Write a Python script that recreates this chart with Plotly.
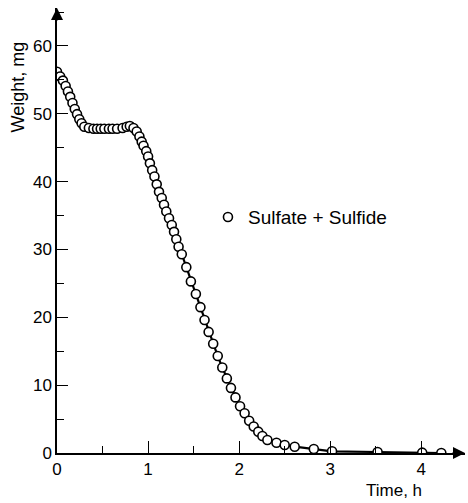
import plotly.graph_objects as go

time_h = [0.00, 0.035, 0.065, 0.095, 0.12, 0.145, 0.17, 0.195, 0.22, 0.245, 0.27, 0.30,
          0.35, 0.40, 0.44, 0.48, 0.52, 0.57, 0.61, 0.66, 0.72, 0.765, 0.80, 0.84, 0.875,
          0.905, 0.93, 0.95, 0.98, 1.00, 1.02, 1.045, 1.07, 1.095, 1.12, 1.15, 1.175, 1.20,
          1.23, 1.26, 1.285, 1.31, 1.335, 1.37, 1.42, 1.47, 1.525, 1.575, 1.62, 1.665, 1.715,
          1.765, 1.815, 1.865, 1.91, 1.96, 2.01, 2.06, 2.11, 2.16, 2.21, 2.255, 2.31, 2.41,
          2.50, 2.61, 2.82, 3.02, 3.52, 4.01, 4.22]
weight_mg = [56.2, 55.5, 54.9, 54.1, 53.3, 52.5, 51.6, 50.7, 49.95, 49.2, 48.6, 48.1,
             47.9, 47.8, 47.8, 47.8, 47.8, 47.8, 47.8, 47.8, 47.9, 48.1, 48.2, 47.9, 47.4,
             46.65, 45.9, 45.3, 44.5, 43.7, 42.7, 41.7, 40.75, 39.6, 38.5, 37.6, 36.6, 35.6,
             34.6, 33.6, 32.6, 31.5, 30.4, 29.3, 27.4, 25.3, 23.45, 21.5, 19.6, 17.85, 16.1,
             14.3, 12.6, 11.0, 9.6, 8.2, 6.9, 5.85, 4.76, 3.9, 3.15, 2.5, 1.92, 1.5,
             1.18, 0.93, 0.6, 0.25, 0.15, 0.05, 0.0]
series_name = "Sulfate + Sulfide"
x_ticks = [0, 1, 2, 3, 4]
y_ticks = [0, 10, 20, 30, 40, 50, 60]

X_MAX = 4.48
Y_MAX = 65.6
FONT = "Liberation Sans"

fig = go.Figure()
fig.add_trace(go.Scatter(x=time_h, y=weight_mg, mode="lines",
                         line=dict(color="black", width=2.2), showlegend=False,
                         hoverinfo="skip"))
fig.add_trace(go.Scatter(x=time_h, y=weight_mg, mode="markers", name=series_name,
                         marker=dict(symbol="circle", size=9, color="white",
                                     line=dict(color="black", width=1.6)),
                         showlegend=True))

fig.update_layout(
    width=468, height=503,
    margin=dict(l=57, r=3, t=8, b=50, autoexpand=False),
    paper_bgcolor="white", plot_bgcolor="white",
    font=dict(family=FONT, size=17, color="black"),
    legend=dict(x=0.37, y=0.53, xanchor="left", yanchor="middle",
                bgcolor="rgba(0,0,0,0)", itemwidth=30,
                font=dict(family=FONT, size=19, color="black")),
    xaxis=dict(range=[0, X_MAX], tickvals=x_ticks, ticktext=[str(v) for v in x_ticks],
               showgrid=False, zeroline=False, showline=True, linecolor="black",
               linewidth=1.5, ticks="inside", ticklen=12, tickwidth=1.2, tickcolor="black",
               minor=dict(ticks="inside", dtick=0.5, tick0=0, ticklen=7, tickwidth=1.2,
                          tickcolor="black", showgrid=False),
               tickfont=dict(family=FONT, size=17), automargin=False),
    yaxis=dict(range=[0, Y_MAX], tickvals=y_ticks, ticktext=[str(v) for v in y_ticks],
               showgrid=False, zeroline=False, showline=True, linecolor="black",
               linewidth=1.5, ticks="inside", ticklen=11, tickwidth=1.2, tickcolor="black",
               minor=dict(ticks="inside", dtick=5, tick0=0, ticklen=7, tickwidth=1.2,
                          tickcolor="black", showgrid=False),
               tickfont=dict(family=FONT, size=17), automargin=False),
)

# axis arrows
fig.add_annotation(x=X_MAX, y=0, xref="x", yref="y", ax=-14, ay=0,
                   showarrow=True, arrowhead=2, arrowsize=1.6, arrowwidth=1.5,
                   arrowcolor="black", text="")
fig.add_annotation(x=0, y=Y_MAX, xref="x", yref="y", ax=0, ay=14,
                   showarrow=True, arrowhead=2, arrowsize=1.6, arrowwidth=1.5,
                   arrowcolor="black", text="")

# axis titles
fig.add_annotation(text="Weight, mg", xref="paper", yref="paper", x=-0.095, y=0.822,
                   textangle=-90, showarrow=False, xanchor="center", yanchor="middle",
                   font=dict(family=FONT, size=18, color="black"))
fig.add_annotation(text="Time, h", xref="paper", yref="paper", x=0.826, y=-0.084,
                   showarrow=False, xanchor="center", yanchor="middle",
                   font=dict(family=FONT, size=17, color="black"))

fig.write_html("out.html", config={"displayModeBar": False},
               post_script="document.body.style.margin='0px';")
